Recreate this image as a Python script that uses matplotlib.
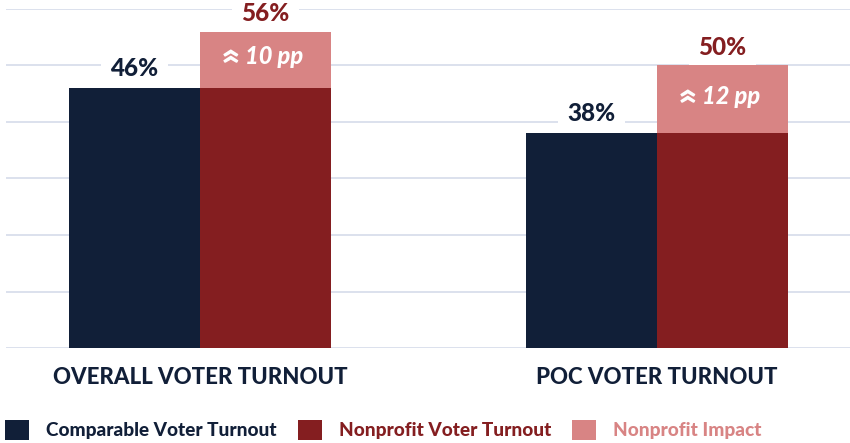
import matplotlib
matplotlib.use("Agg")
import matplotlib.pyplot as plt
from matplotlib.patches import Patch

categories = ["OVERALL VOTER TURNOUT", "POC VOTER TURNOUT"]
comparable = [46, 38]
nonprofit = [56, 50]
impact_labels = ["10 pp", "12 pp"]
legend_labels = ["Comparable Voter Turnout", "Nonprofit Voter Turnout", "Nonprofit Impact"]
yticks = [0, 10, 20, 30, 40, 50, 60]

NAVY = "#111F38"
RED = "#841E20"
PINK = "#D88484"
GRID = "#D5DCEA"
FONT = ["Lato", "DejaVu Sans"]

W, H = 850, 443
fig = plt.figure(figsize=(W / 100, H / 100), dpi=100)
ax = fig.add_axes([6 / W, (H - 348) / H, 1 - 6 / W, (348 - 9) / H])

bw = 0.2866
x = list(range(len(categories)))
xl = [xi - bw / 2 for xi in x]
xr = [xi + bw / 2 for xi in x]

ax.bar(xl, comparable, width=bw, color=NAVY, zorder=3)
ax.bar(xr, comparable, width=bw, color=RED, zorder=3)
imp = [n - c for n, c in zip(nonprofit, comparable)]
ax.bar(xr, imp, bottom=comparable, width=bw, color=PINK, zorder=3)

ax.set_xlim(-0.4245, 1.4223)
ax.set_ylim(0, 60)
ax.set_yticks(yticks)
ax.grid(axis="y", color=GRID, linewidth=1.2, zorder=0)
ax.tick_params(left=False, bottom=False, labelleft=False, labelbottom=False)
for s in ax.spines.values():
    s.set_visible(False)

box = dict(boxstyle="square,pad=0.4", facecolor="white", edgecolor="none")
for i in x:
    ax.annotate(f"{comparable[i]}%", (xl[i], comparable[i]), xytext=(0, 20),
                textcoords="offset pixels", ha="center", va="center",
                fontsize=17.5, fontweight="black", color=NAVY, family=FONT,
                bbox=box, zorder=2, annotation_clip=False)
    ax.annotate(f"{nonprofit[i]}%", (xr[i], nonprofit[i]), xytext=(0, 18),
                textcoords="offset pixels", ha="center", va="center",
                fontsize=17.5, fontweight="black", color=RED, family=FONT,
                bbox=box, zorder=2, annotation_clip=False)
    mid = (comparable[i] + nonprofit[i]) / 2
    ax.annotate("«", (xr[i], mid), xytext=(-37, 3), textcoords="offset pixels",
                ha="center", va="center", rotation=-90, fontsize=26,
                fontweight="black", color="white", family=FONT, zorder=5)
    ax.annotate(impact_labels[i], (xr[i], mid), xytext=(9, 3), textcoords="offset pixels",
                ha="center", va="center", fontsize=17, fontweight="black",
                style="italic", color="white", family=FONT, zorder=5)

for i, c in enumerate(categories):
    ax.annotate(c, (x[i], 0), xytext=(0, -29), textcoords="offset pixels",
                ha="center", va="center", fontsize=16, fontweight="black",
                color=NAVY, family=FONT, annotation_clip=False)

handles = [Patch(facecolor=NAVY), Patch(facecolor=RED), Patch(facecolor=PINK)]
leg = fig.legend(handles, legend_labels, loc="center left",
                 bbox_to_anchor=(5 / W, (H - 430) / H), ncol=3, frameon=False,
                 handlelength=1.26, handleheight=1.26, handletextpad=0.9,
                 columnspacing=1.1, labelcolor=[NAVY, RED, PINK],
                 prop=dict(family=FONT, weight="black", size=13.7),
                 borderaxespad=0, borderpad=0)

fig.savefig("out.png", dpi=100)
